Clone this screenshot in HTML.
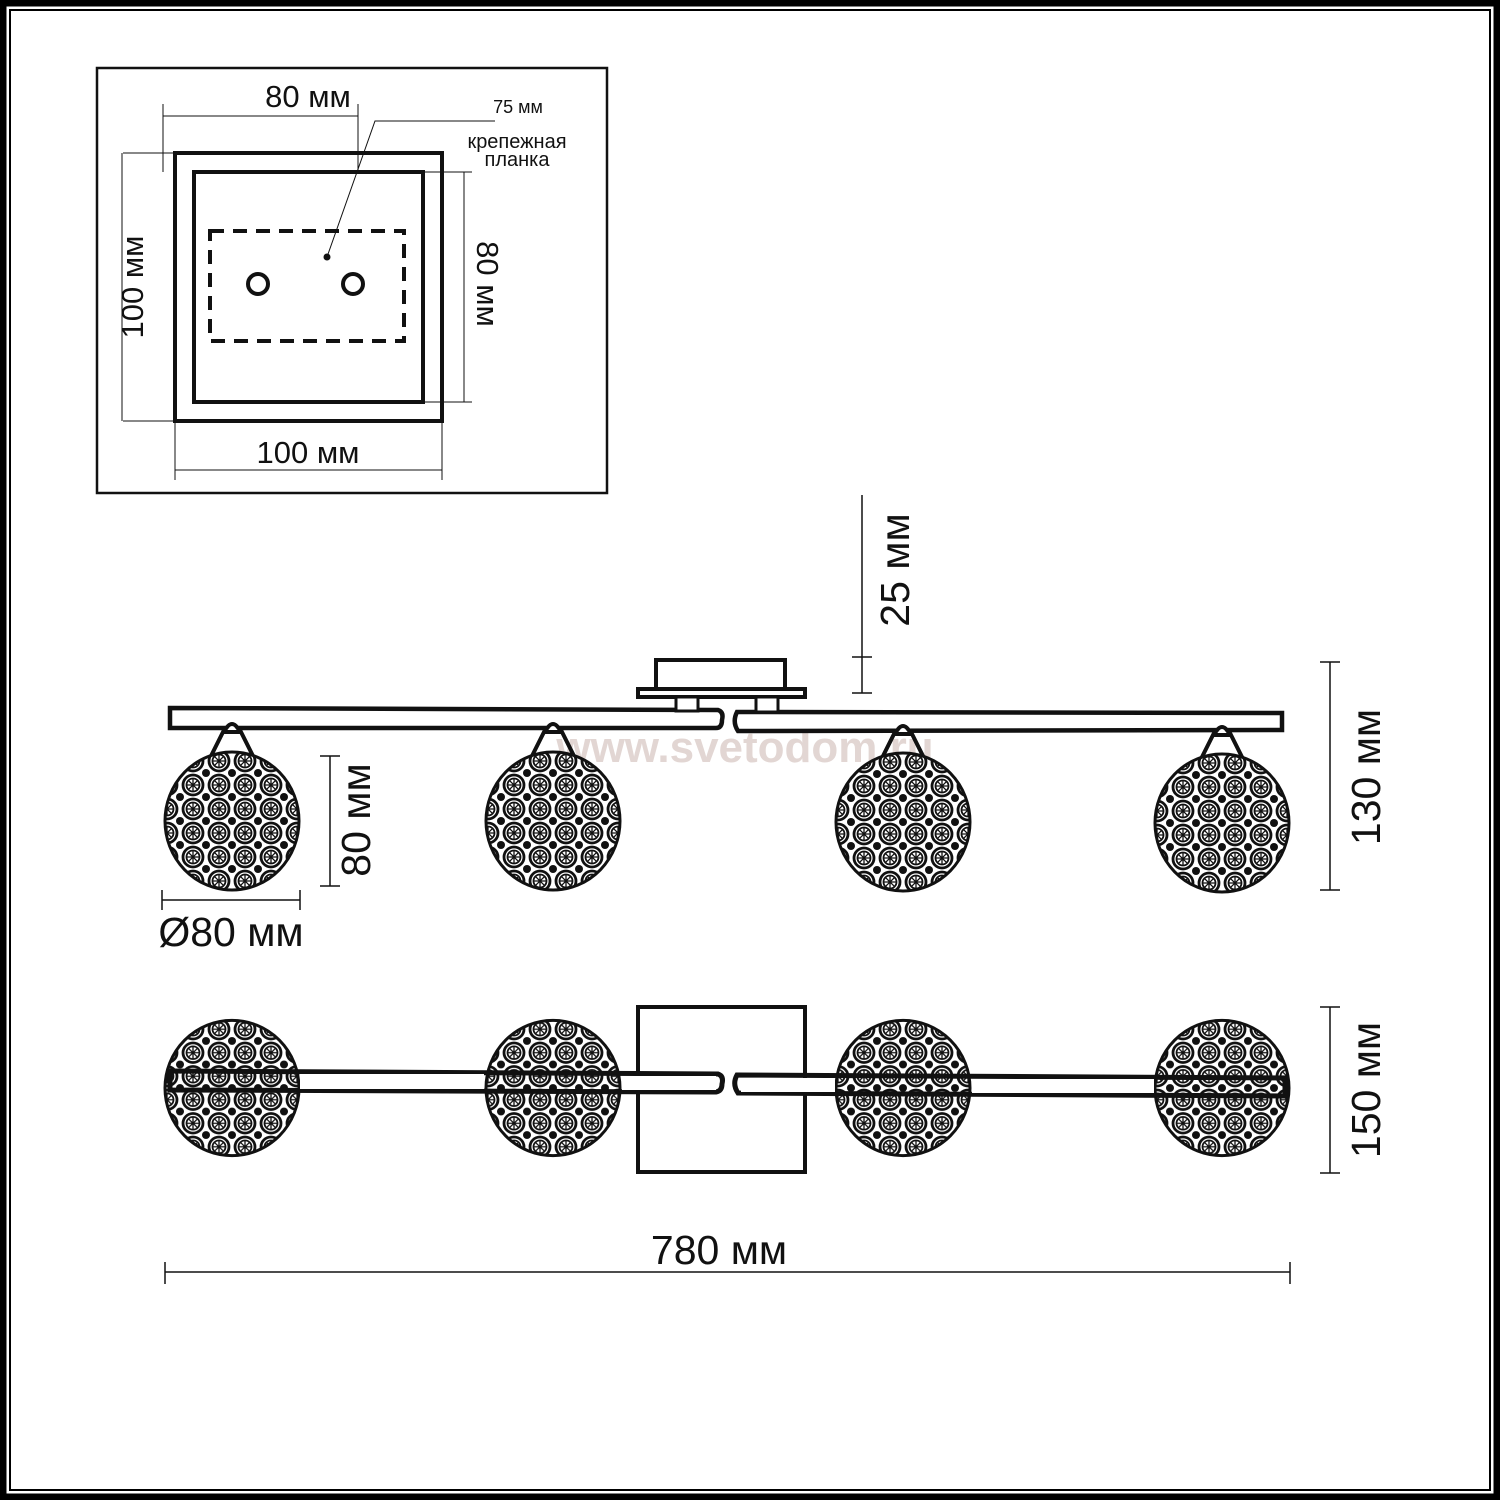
<!DOCTYPE html>
<html><head><meta charset="utf-8"><style>html,body{margin:0;padding:0;background:#fff}svg{display:block}text{font-family:"Liberation Sans",sans-serif;fill:#111}</style></head>
<body>
<svg width="1500" height="1500" viewBox="0 0 1500 1500" xmlns="http://www.w3.org/2000/svg">
<defs>
<pattern id="mesh" width="26" height="24" patternUnits="userSpaceOnUse">
<rect width="26" height="24" fill="#fff"/>
<circle cx="13" cy="12" r="10" fill="none" stroke="#111" stroke-width="2.8"/>
<circle cx="13" cy="12" r="6.5" fill="none" stroke="#111" stroke-width="1.8"/>
<path d="M13 5.5V18.5M6.5 12H19.5M8.4 7.4L17.6 16.6M17.6 7.4L8.4 16.6" stroke="#111" stroke-width="1.3"/>
<circle cx="0" cy="0" r="4" fill="#111"/><circle cx="26" cy="0" r="4" fill="#111"/><circle cx="0" cy="24" r="4" fill="#111"/><circle cx="26" cy="24" r="4" fill="#111"/>
</pattern>
<g id="ball"><ellipse cx="0" cy="0" rx="67" ry="69" fill="url(#mesh)" stroke="#111" stroke-width="3"/></g>
<g id="hang"><path d="M-8 2 L-22 30 L22 30 L8 2 Z" fill="none" stroke="#111" stroke-width="4"/><path d="M-8 4 Q0 -12 8 4 Z" fill="#fff" stroke="#111" stroke-width="4"/></g>
</defs>
<rect x="3" y="3" width="1494" height="1494" fill="none" stroke="#000" stroke-width="7"/>
<rect x="10" y="10" width="1480" height="1480" fill="none" stroke="#000" stroke-width="2"/>

<!-- top box -->
<rect x="97" y="68" width="510" height="425" fill="none" stroke="#111" stroke-width="2.5"/>
<rect x="175" y="153" width="267" height="268" fill="none" stroke="#111" stroke-width="4"/>
<rect x="194" y="172" width="229" height="230" fill="none" stroke="#111" stroke-width="4"/>
<rect x="210" y="231" width="194" height="110" fill="none" stroke="#111" stroke-width="4" stroke-dasharray="14 9"/>
<circle cx="258" cy="284" r="10" fill="none" stroke="#111" stroke-width="4"/>
<circle cx="353" cy="284" r="10" fill="none" stroke="#111" stroke-width="4"/>
<circle cx="327" cy="257" r="3.5" fill="#111"/>
<g stroke="#111" stroke-width="1" fill="none">
<path d="M327 257 L375 121 L495 121"/>
<path d="M163 116H358M163 104V172M358 104V172"/>
<path d="M123 153H175M123 421H175M122 153V421"/>
<path d="M175 421V480M442 421V480M175 470H442"/>
<path d="M420 172H472M420 402H472M464 172V402"/>
</g>
<text x="308" y="107" font-size="31" text-anchor="middle">80 мм</text>
<text x="518" y="113" font-size="18" text-anchor="middle">75 мм</text>
<text x="517" y="148" font-size="20" text-anchor="middle">крепежная</text>
<text x="517" y="166" font-size="20" text-anchor="middle">планка</text>
<text x="308" y="463" font-size="31" text-anchor="middle">100 мм</text>
<text transform="translate(143,287) rotate(-90)" font-size="31" text-anchor="middle">100 мм</text>
<text transform="translate(477,284) rotate(90)" font-size="31" text-anchor="middle">80 мм</text>

<!-- side view -->
<text x="745" y="762" font-size="44" font-weight="bold" style="fill:#e2d6d3" text-anchor="middle">www.svetodom.ru</text>
<rect x="656" y="660" width="129" height="31" fill="#fff" stroke="#111" stroke-width="4"/>
<rect x="638" y="689" width="167" height="8" fill="#fff" stroke="#111" stroke-width="4"/>
<path d="M170 708 L718 710 Q724 712 722 720 Q722 728 716 728 L170 728 Z" fill="#fff" stroke="#111" stroke-width="4.5"/>
<path d="M737 712 L1282 713 L1282 730 L738 731 Q732 722 737 712 Z" fill="#fff" stroke="#111" stroke-width="4.5"/>
<rect x="676" y="697" width="22" height="14" fill="#fff" stroke="#111" stroke-width="3"/>
<rect x="756" y="697" width="22" height="15" fill="#fff" stroke="#111" stroke-width="3"/>
<g transform="translate(232,728)"><use href="#hang"/></g>
<g transform="translate(553,728)"><use href="#hang"/></g>
<g transform="translate(903,730)"><use href="#hang"/></g>
<g transform="translate(1222,731)"><use href="#hang"/></g>
<use href="#ball" transform="translate(232,821)"/>
<use href="#ball" transform="translate(553,821)"/>
<use href="#ball" transform="translate(903,822)"/>
<use href="#ball" transform="translate(1222,823)"/>

<g stroke="#111" stroke-width="1.5" fill="none">
<path d="M862 495V693M852 657H872M852 693H872"/>
<path d="M330 756V886M320 756H340M320 886H340"/>
<path d="M162 900H300M162 890V910M300 890V910"/>
<path d="M1330 662V890M1320 662H1340M1320 890H1340"/>
<path d="M1330 1007V1173M1320 1007H1340M1320 1173H1340"/>
<path d="M165 1272H1290M165 1262V1284M1290 1262V1284"/>
</g>
<text transform="translate(909,570) rotate(-90)" font-size="41" text-anchor="middle">25 мм</text>
<text transform="translate(370,820) rotate(-90)" font-size="41" text-anchor="middle">80 мм</text>
<text x="231" y="946" font-size="41" text-anchor="middle">Ø80 мм</text>
<text transform="translate(1380,777) rotate(-90)" font-size="41" text-anchor="middle">130 мм</text>
<text transform="translate(1380,1090) rotate(-90)" font-size="41" text-anchor="middle">150 мм</text>
<text x="719" y="1264" font-size="41" text-anchor="middle">780 мм</text>

<!-- bottom view -->
<rect x="638" y="1007" width="167" height="165" fill="#fff" stroke="#111" stroke-width="4"/>
<use href="#ball" transform="translate(232,1088) scale(1,0.98)"/>
<use href="#ball" transform="translate(553,1088) scale(1,0.98)"/>
<use href="#ball" transform="translate(903,1088) scale(1,0.98)"/>
<use href="#ball" transform="translate(1222,1088) scale(1,0.98)"/>
<path d="M170 1071 L718 1074 Q724 1076 722 1084 Q722 1091 716 1092 L170 1090 Z" fill="none" stroke="#111" stroke-width="5"/>
<path d="M737 1075 L1285 1078 L1285 1096 L738 1093 Q732 1084 737 1075 Z" fill="none" stroke="#111" stroke-width="5"/>
<rect x="300" y="1074" width="184" height="15" fill="#fff"/>
<rect x="622" y="1076" width="94" height="14" fill="#fff"/>
<rect x="741" y="1078" width="94" height="14" fill="#fff"/>
<rect x="972" y="1079" width="182" height="14" fill="#fff"/>
</svg>
</body></html>
